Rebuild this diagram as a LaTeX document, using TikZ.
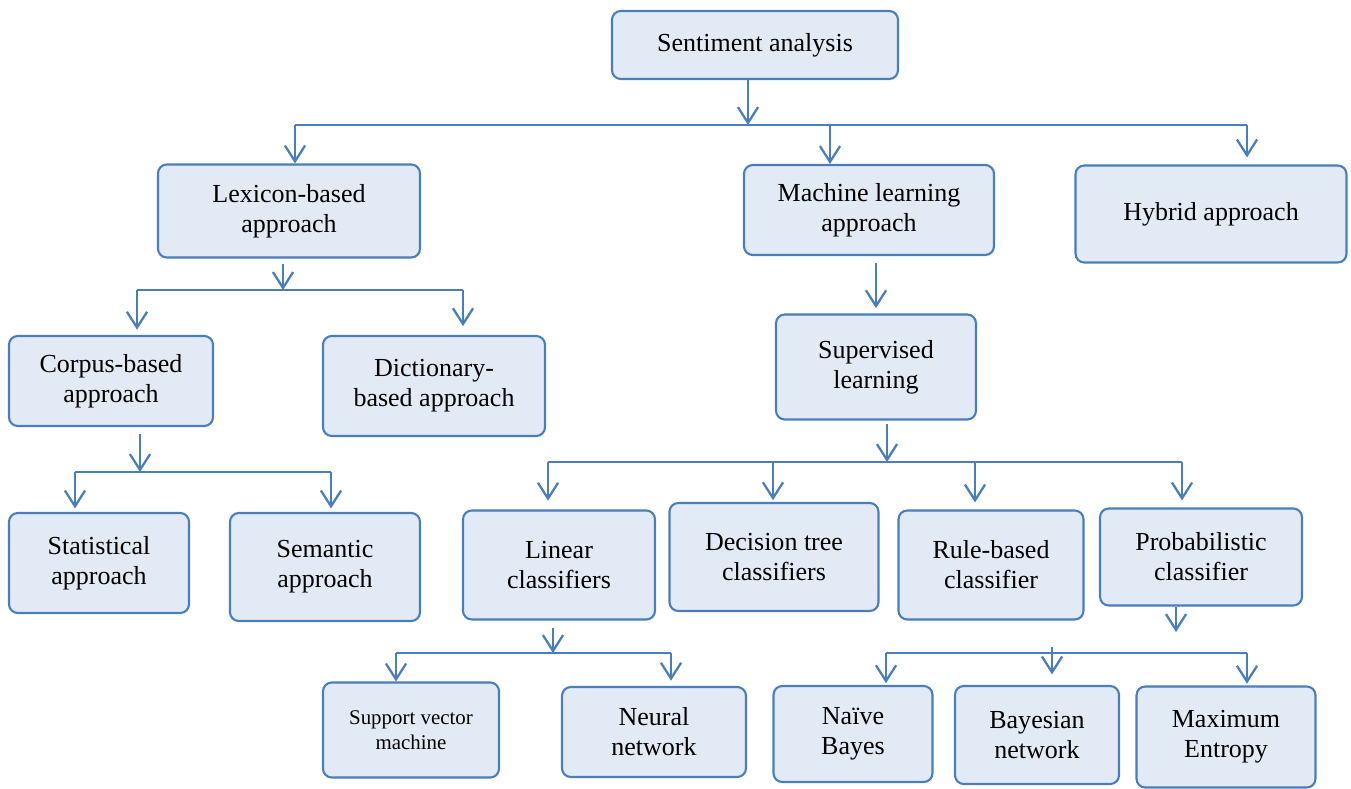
\documentclass[tikz,border=0pt]{standalone}
\usepackage{fontspec}
\setmainfont{Liberation Serif}
\usetikzlibrary{arrows.meta}
\definecolor{boxline}{RGB}{74,126,187}
\definecolor{boxfill}{RGB}{226,234,245}
\tikzset{
  box/.style={draw=boxline, fill=boxfill, line width=1.2pt, rounded corners=5pt,
    align=center, inner sep=2pt, font=\fontsize{14.8}{17}\selectfont},
  sz/.style 2 args={minimum width=#1*0.02cm, minimum height=#2*0.02cm},
  link/.style={draw=boxline, line width=1.3pt},
  arr/.style={link, -{Straight Barb[length=9pt,width=11.5pt]}},
}
\begin{document}
\begin{tikzpicture}[x=0.02cm, y=-0.02cm]
  \useasboundingbox (0,0) rectangle (1351,788);
  % boxes
  \node[box, sz={286}{68}]  (sa)   at (755,45)  {Sentiment analysis};
  \node[box, sz={262}{93}]  (lex)  at (289,211) {Lexicon-based\\approach};
  \node[box, sz={250}{90}]  (ml)   at (869,210) {Machine learning\\approach};
  \node[box, sz={271}{97}]  (hyb)  at (1211,214) {Hybrid approach};
  \node[box, sz={204}{90}]  (corp) at (111,381) {Corpus-based\\approach};
  \node[box, sz={222}{100}] (dict) at (434,386) {Dictionary-\\based approach};
  \node[box, sz={180}{100}] (stat) at (99,563)  {Statistical\\approach};
  \node[box, sz={190}{108}] (sem)  at (325,567) {Semantic\\approach};
  \node[box, sz={200}{105}] (sup)  at (876,367) {Supervised\\learning};
  \node[box, sz={192}{109}] (lin)  at (559,565) {Linear\\classifiers};
  \node[box, sz={209}{108}] (dt)   at (774,557) {Decision tree\\classifiers};
  \node[box, sz={185}{109}] (rb)   at (991,565) {Rule-based\\classifier};
  \node[box, sz={202}{97}]  (prob) at (1201,557) {Probabilistic\\classifier};
  \node[box, sz={176}{95}, font=\fontsize{11.9}{14}\selectfont] (svm) at (411,730) {Support vector\\machine};
  \node[box, sz={184}{90}]  (nn)   at (654,732) {Neural\\network};
  \node[box, sz={159}{96}]  (nb)   at (853,734) {Naïve\\Bayes};
  \node[box, sz={164}{98}]  (bn)   at (1037,735) {Bayesian\\network};
  \node[box, sz={179}{101}] (me)   at (1226,737) {Maximum\\Entropy};

  % sentiment analysis -> approaches
  \coordinate (j0) at (748,125);
  \coordinate (j0a) at (295,125);
  \coordinate (j0b) at (830,125);
  \coordinate (j0c) at (1247,125);
  \draw[arr] (sa.south -| j0) -- (j0);
  \draw[link] (j0a) -- (j0c);
  \draw[arr] (j0a) -- (lex.north -| j0a);
  \draw[arr] (j0b) -- (ml.north -| j0b);
  \draw[arr, shorten >=4pt] (j0c) -- (hyb.north -| j0c);

  % lexicon-based
  \coordinate (j1) at (283,290);
  \coordinate (j1a) at (137,290);
  \coordinate (j1b) at (463,290);
  \draw[arr, shorten <=3pt] (lex.south -| j1) -- (j1);
  \draw[link] (j1a) -- (j1b);
  \draw[arr, shorten >=3pt] (j1a) -- (corp.north -| j1a);
  \draw[arr, shorten >=5pt] (j1b) -- (dict.north -| j1b);

  % corpus-based
  \coordinate (j2) at (140,472);
  \coordinate (j2a) at (75,472);
  \coordinate (j2b) at (331,472);
  \draw[arr, shorten <=4pt] (corp.south -| j2) -- (j2);
  \draw[link] (j2a) -- (j2b);
  \draw[arr, shorten >=2pt] (j2a) -- (stat.north -| j2a);
  \draw[arr, shorten >=2pt] (j2b) -- (sem.north -| j2b);

  % machine learning
  \draw[arr, shorten <=4pt, shorten >=3pt] (ml.south -| sup.north) -- (sup.north);

  % supervised learning
  \coordinate (j3) at (887,462);
  \coordinate (j3a) at (548,462);
  \coordinate (j3b) at (773,462);
  \coordinate (j3c) at (975,462);
  \coordinate (j3d) at (1182,462);
  \draw[arr, shorten <=2pt] (sup.south -| j3) -- (j3);
  \draw[link] (j3a) -- (j3d);
  \draw[arr, shorten >=5pt] (j3a) -- (lin.north -| j3a);
  \draw[arr, shorten >=1pt] (j3b) -- (dt.north -| j3b);
  \draw[arr, shorten >=4pt] (j3c) -- (rb.north -| j3c);
  \draw[arr, shorten >=4pt] (j3d) -- (prob.north -| j3d);

  % linear classifiers
  \coordinate (j4) at (553,653);
  \coordinate (j4a) at (396,653);
  \coordinate (j4b) at (671,653);
  \draw[arr, shorten <=4pt] (lin.south -| j4) -- (j4);
  \draw[link] (j4a) -- (j4b);
  \draw[arr] (j4a) -- (svm.north -| j4a);
  \draw[arr, shorten >=3pt] (j4b) -- (nn.north -| j4b);

  % probabilistic classifier
  \coordinate (j5) at (1176,632);
  \coordinate (j5a) at (886,653);
  \coordinate (j5b) at (1052,647);
  \coordinate (j5c) at (1247,653);
  \draw[arr] (prob.south -| j5) -- (j5);
  \draw[link] (j5a) -- (j5c);
  \draw[arr, shorten >=1pt] (j5a) -- (nb.north -| j5a);
  \draw[arr, shorten >=6pt] (j5b) -- (bn.north -| j5b);
  \draw[arr, shorten >=1pt] (j5c) -- (me.north -| j5c);
\end{tikzpicture}
\end{document}
